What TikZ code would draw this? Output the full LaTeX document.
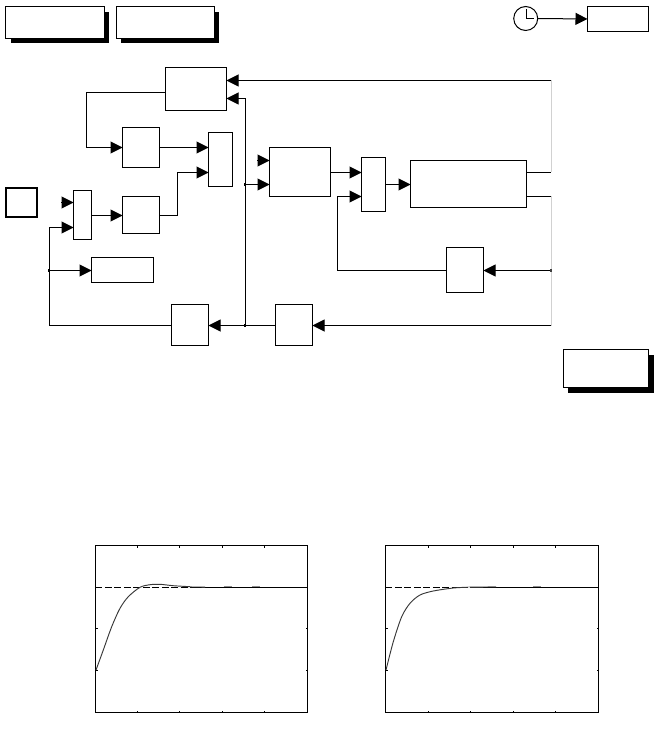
\documentclass[tikz,border=0pt]{standalone}
\usetikzlibrary{arrows.meta,calc}
\tikzset{
  x=0.75pt,y=-0.75pt,
  blk/.style={draw=black,fill=white,line width=0.75pt,inner sep=0pt,outer sep=0pt},
  sig/.style={draw=black,line width=0.75pt,-{Triangle[length=9pt,width=9pt]},shorten >=0pt},
  wire/.style={draw=black,line width=0.75pt},
  rail/.style={draw=black!18,line width=0.75pt},
  junc/.style={fill=black,inner sep=0pt,minimum size=2.2pt,shape=rectangle},
  shade/.style={fill=black,draw=none},
  axisbox/.style={draw=black,line width=0.75pt},
  tickmark/.style={draw=black,line width=0.6pt},
  resp/.style={draw=black!78,line width=0.7pt},
  frag/.style={draw=black!45,line width=0.7pt},
  refdash/.style={draw=black,line width=0.75pt,dash pattern=on 5.2pt off 1.9pt},
}
\newcommand{\blk}[6][]{\node[blk,#1,minimum width={(#5-#3)*0.75pt},minimum height={(#6-#4)*0.75pt}] (#2) at ({(#3+#5)/2},{(#4+#6)/2}) {};}
\newcommand{\axes}[7]{%
  \draw[axisbox] (#1,545.5) rectangle (#2,712.5);
  \draw[refdash] (#1,587.5) -- (#7,587.5);
  \draw[wire] (#7,587.5) -- (#2,587.5);
  \foreach \t in {#3,#4,#5,#6} {
    \draw[tickmark] (\t,545.5) -- (\t,547.5);
    \draw[tickmark] (\t,712.5) -- (\t,710.5);
  }
  \foreach \t in {628.5,670.5} {
    \draw[tickmark] (#1,\t) -- ({#1+2},\t);
    \draw[tickmark] (#2,\t) -- ({#2-2},\t);
  }
}
\begin{document}
\begin{tikzpicture}
\useasboundingbox[fill=white] (0,0) rectangle (658,745);
% shadowed boxes
\fill[shade] (11,12) rectangle (109,43);
\blk{ta}{5.5}{6.5}{104.5}{38.5}
\fill[shade] (121,12) rectangle (219,43);
\blk{tb}{116.5}{6.5}{214.5}{38.5}
\fill[shade] (568,355) rectangle (654,392.5);
\blk{tc}{563.5}{349.5}{648.5}{387.5}
% clock and display
\node[draw=black,fill=white,line width=0.75pt,circle,inner sep=0pt,outer sep=0pt,minimum size=18pt] (clk) at (525.7,18.5) {};
\draw[wire] (526,9) -- (526,18.5) -- (534,18.5);
\blk{disp}{587.5}{6.5}{648.5}{31.5}
\draw[sig] (clk.east) -- (disp.west);
% blocks
\blk{ctrl}{165.5}{67.5}{226.5}{110.5}
\blk{c}{122.5}{127.5}{159.5}{167.5}
\blk{ma}{208.5}{132.5}{232.5}{186.5}
\blk{d}{122.5}{196.5}{159.5}{233.5}
\blk{mb}{73.5}{190.5}{91.5}{239.5}
\blk[line width=1.5pt]{sq}{6}{188.5}{37}{217}
\blk{e}{91.5}{257.5}{153.5}{282.5}
\blk{f}{171.5}{304.5}{208.5}{345.5}
\blk{g}{275.5}{304.5}{312.5}{345.5}
\blk{h}{269.5}{147.5}{330.5}{196.5}
\blk{mc}{361.5}{157.5}{385.5}{211.5}
\blk{plant}{410.5}{160.5}{526.5}{207.5}
\blk{j}{446.5}{247.5}{483.5}{292.5}
% rail coordinates
\coordinate (r1) at (551,80.5);
\coordinate (r2) at (551,172.5);
\coordinate (r3) at (551,196.5);
\coordinate (r4) at (551,270.5);
\coordinate (r5) at (551,325.5);
\coordinate (ja) at (245,184.5);
\coordinate (jb) at (245,325.5);
\coordinate (jc) at (245,98.5);
\coordinate (jd) at (49,270.5);
\coordinate (je) at (49,227.5);
\coordinate (jf) at (49,325.5);
\coordinate (k1) at (86,92.5);
\coordinate (k2) at (86,147.5);
\coordinate (k3) at (177,215.5);
\coordinate (k4) at (177,172.5);
\coordinate (k5) at (337.5,270.5);
\coordinate (k6) at (337.5,196.5);
\coordinate (free1) at (257,160.5);
\coordinate (free2) at (61,202.5);
% right rail
\draw[rail] (r1) -- (r2);
\draw[rail] (r3) -- (r5);
% connectors
\draw[sig] (r1) -- (ctrl.east |- r1);
\draw[sig] (jb) -- (jc) -- (ctrl.east |- jc);
\draw[wire] (ctrl.west |- k1) -- (k1) -- (k2);
\draw[sig] (k2) -- (c.west |- k2);
\draw[sig] (c.east |- k2) -- (ma.west |- k2);
\draw[wire] (d.east |- k3) -- (k3) -- (k4);
\draw[sig] (k4) -- (ma.west |- k4);
\draw[sig] (mb.east |- k3) -- (d.west |- k3);
\draw[sig] (ja) -- (h.west |- ja);
\draw[sig] (free1) -- (h.west |- free1);
\draw[sig] (free2) -- (mb.west |- free2);
\draw[sig] (jf) -- (je) -- (mb.west |- je);
\draw[sig] (jd) -- (e.west |- jd);
\draw[wire] (f.west |- jf) -- (jf);
\draw[sig] (g.west |- jb) -- (f.east |- jb);
\draw[sig] (r5) -- (g.east |- r5);
\draw[sig] (r4) -- (j.east |- r4);
\draw[wire] (j.west |- r4) -- (k5) -- (k6);
\draw[sig] (k6) -- (mc.west |- k6);
\draw[sig] (h.east |- r2) -- (mc.west |- r2);
\draw[sig] (mc.east |- ja) -- (plant.west |- ja);
\draw[wire] (plant.east |- r2) -- (r2);
\draw[wire] (plant.east |- r3) -- (r3);
% junctions
\node[junc] at (ja) {};
\node[junc] at (jb) {};
\node[junc] at (jd) {};
\node[fill=black!75,inner sep=0pt,minimum size=1.6pt] at (r4) {};
% plots
\axes{95.5}{307.5}{137.5}{179.5}{222.5}{264.5}{197}
\draw[resp] plot[smooth] coordinates {(96,670) (103.3,650) (111.7,626.7) (120,608.3) (128.3,596.7) (140,587.3) (150,584.7) (160,584.3) (173.3,585.7) (190,586.7)};
\draw[frag] (190,586.7) -- (205,586.8);
\draw[frag] (223.5,586.6) -- (232,586.6);
\draw[frag] (252,586.6) -- (260,586.6);
\axes{385.5}{598.5}{428.5}{470.5}{513.5}{555.5}{470}
\draw[resp] plot[smooth] coordinates {(386,670) (393.3,641.7) (401.7,616.7) (410,603.3) (420,595) (433.3,591) (453.3,588) (466.7,587.3)};
\draw[frag] (466.7,587) -- (496,586.6);
\draw[frag] (533,586.6) -- (541,586.6);
\end{tikzpicture}
\end{document}
